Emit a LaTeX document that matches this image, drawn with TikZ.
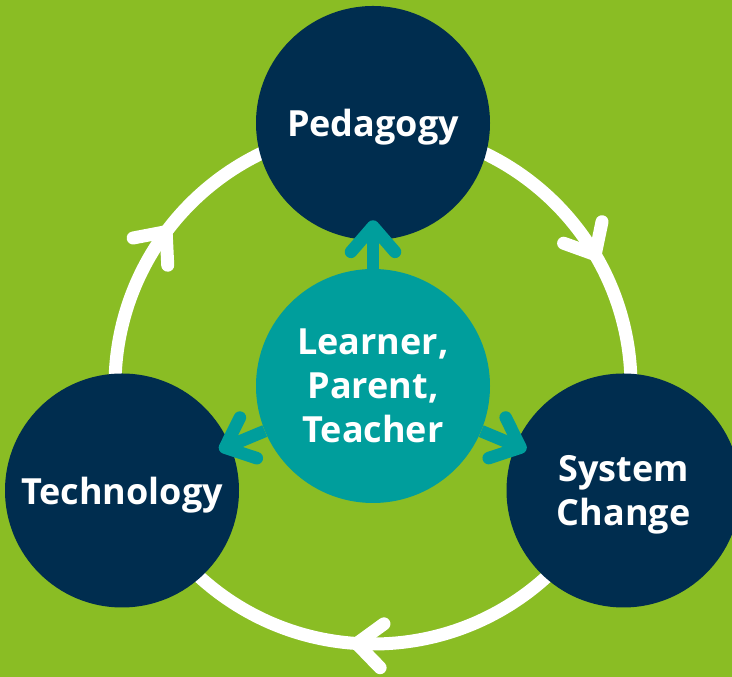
\documentclass[tikz,border=0pt]{standalone}
\usepackage{fontspec}
\setmainfont{Open Sans}
\usetikzlibrary{arrows.meta,decorations.markings}

\definecolor{hintergrund}{HTML}{8ABD24}
\definecolor{dunkelblau}{HTML}{002D4F}
\definecolor{tuerkis}{HTML}{009E9C}

\tikzset{
	kreis/.style={circle, fill=dunkelblau, minimum size=175.5pt, inner sep=0pt,
		text=white, align=center, text depth=0pt,
		font=\fontsize{27}{33}\selectfont\bfseries},
	mitte/.style={kreis, fill=tuerkis},
	spitze/.style={-{Straight Barb[round, length=19pt, width=33pt]}},
	pfeil/.style={draw=tuerkis, line width=9.4pt, spitze, shorten >=-9pt},
	ring/.style={draw=white, color=white, line width=9.75pt,
		decoration={markings,
			mark=at position 0.264 with {\arrow{Straight Barb[round, length=19pt, width=33pt]}},
			mark=at position 0.606 with {\arrow{Straight Barb[round, length=19pt, width=33pt]}},
			mark=at position 0.919 with {\arrow{Straight Barb[round, length=19pt, width=33pt]}}},
		postaction={decorate}}
}

\begin{document}
\begin{tikzpicture}[x=0.75pt, y=0.75pt]
	% Hintergrund
	\useasboundingbox (0,0) rectangle (732,677);
	\clip (0,0) rectangle (732,677);
	\fill[hintergrund] (0,0) rectangle (732,677);
	% Kreislauf
	\coordinate (m) at (373,291);
	\draw[ring] ([shift={(0:258)}]m) arc[start angle=0, end angle=-360, radius=258];
	% Themen
	\node[kreis] (ped) at (373,554) {Pedagogy};
	\node[kreis] (tech) at (122,186.5) {Technology};
	\node[kreis] (sys) at (623.5,186.5) {System\\Change};
	% Mitte
	\node[mitte] (lpt) at (m) {Learner,\\Parent,\\Teacher};
	\draw[pfeil, shorten >=-15pt] (lpt) -- (ped);
	\draw[pfeil] (lpt) -- (tech);
	\draw[pfeil] (lpt) -- (sys);
\end{tikzpicture}
\end{document}
